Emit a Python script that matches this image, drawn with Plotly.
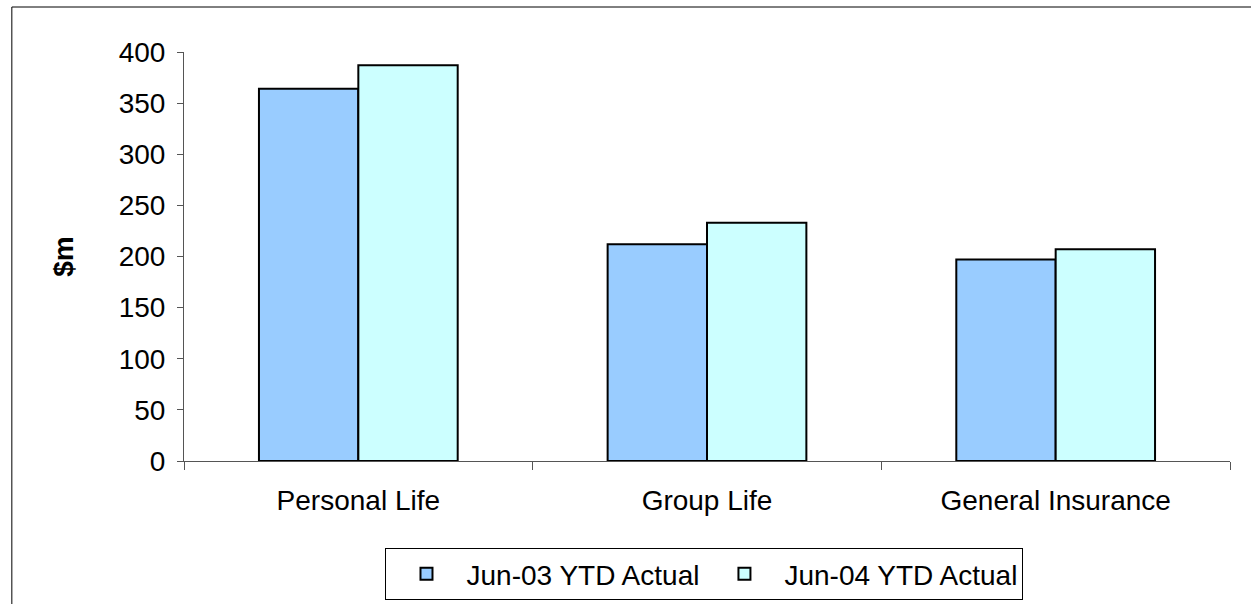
import plotly.graph_objects as go

categories = ["Personal Life", "Group Life", "General Insurance"]
jun03_ytd = [364, 212, 197]
jun04_ytd = [387, 233, 207]
series_names = ["Jun-03 YTD Actual", "Jun-04 YTD Actual"]
y_ticks = [0, 50, 100, 150, 200, 250, 300, 350, 400]

FONT = "Liberation Sans, Arial, sans-serif"
AXIS_COLOR = "#555555"

fig = go.Figure()
fig.add_trace(go.Bar(
    x=categories, y=jun03_ytd, name=series_names[0],
    marker=dict(color="#99ccff", line=dict(color="#000000", width=2)),
))
fig.add_trace(go.Bar(
    x=categories, y=jun04_ytd, name=series_names[1],
    marker=dict(color="#ccffff", line=dict(color="#000000", width=2)),
))

fig.update_layout(
    width=1251, height=604,
    margin=dict(l=184, r=21, t=52, b=143, autoexpand=False),
    paper_bgcolor="white", plot_bgcolor="white",
    barmode="group", bargap=0.43, bargroupgap=0,
    font=dict(family=FONT, size=28, color="#000000"),
    showlegend=True,
    legend=dict(
        orientation="h", x=0.4976, xanchor="center", y=-0.2127, yanchor="top",
        bordercolor="#000000", borderwidth=1, bgcolor="white",
        font=dict(family=FONT, size=28), traceorder="normal",
        itemwidth=70,
    ),
    xaxis=dict(
        type="category", showline=True, linecolor=AXIS_COLOR, linewidth=1,
        ticks="outside", tickson="boundaries", ticklen=8, tickcolor=AXIS_COLOR,
        showgrid=False, zeroline=False, tickfont=dict(size=28),
        ticklabelstandoff=14,
    ),
    yaxis=dict(
        range=[0, 400], tickvals=y_ticks, showline=True, linecolor=AXIS_COLOR,
        linewidth=1, ticks="outside", ticklen=6, tickcolor=AXIS_COLOR,
        showgrid=False, zeroline=False, tickfont=dict(size=28),
        ticklabelstandoff=6,
        title=dict(text="<b>$m</b>", font=dict(size=28), standoff=36),
    ),
)

# outer frame around the whole chart
fig.add_shape(
    type="rect", xref="paper", yref="paper",
    x0=-0.1646, x1=1.025, y0=-0.40, y1=1.110,
    line=dict(color="#000000", width=1), fillcolor="rgba(0,0,0,0)",
    layer="below",
)

fig.write_html("out.html")
